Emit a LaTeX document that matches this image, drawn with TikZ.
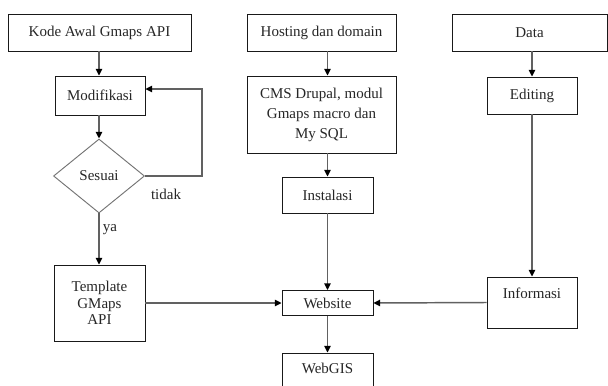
\documentclass[tikz,border=0pt]{standalone}
\usepackage{fontspec}
\setmainfont{Liberation Serif}
\usetikzlibrary{shapes.geometric,arrows.meta}
\begin{document}
\begin{tikzpicture}[x=0.75pt,y=-0.75pt,
  box/.style={draw=black!90,line width=0.65pt,inner sep=0pt,align=center,font=\fontsize{11.25pt}{12.5pt}\selectfont,text=black!85},
  dec/.style={diamond,draw=black!55,line width=0.7pt,inner sep=0pt,font=\fontsize{11.25pt}{12.5pt}\selectfont,text=black!85},
  arr/.style={draw=black!62,line width=1.1pt,-{Triangle[length=5pt,width=4.8pt,fill=black,color=black]}},
  lbl/.style={font=\fontsize{11.25pt}{12.5pt}\selectfont,text=black!85,inner sep=0pt}]
\useasboundingbox (0,0) rectangle (608,386);
% left column
\node[box,minimum width=137.25pt,minimum height=27.75pt] (kode) at (99.5,32.5) {Kode Awal Gmaps API};
\node[box,minimum width=67.5pt,minimum height=29.25pt] (mod) at (100,95.5) {Modifikasi};
\node[dec,minimum width=68.25pt,minimum height=55.5pt] (ses) at (99,176) {Sesuai};
\node[box,minimum width=68.25pt,minimum height=57pt] (tmpl) at (99.5,303) {Template\\GMaps\\API};
% middle column
\node[box,minimum width=111.75pt,minimum height=27.75pt] (host) at (321.5,32.5) {Hosting dan domain};
\node[box,minimum width=111.75pt,minimum height=57.75pt,font=\fontsize{11.25pt}{15pt}\selectfont] (cms) at (321.5,114.5) {CMS Drupal, modul\\Gmaps macro dan\\My SQL};
\node[box,minimum width=68.25pt,minimum height=27pt] (inst) at (327.5,195) {Instalasi};
\node[box,minimum width=68.25pt,minimum height=18.75pt] (web) at (327.5,303) {Website};
\node[box,minimum width=68.25pt,minimum height=39pt] (webgis) at (327.5,379) {};
\node[lbl] (webgistext) at (327.5,368) {WebGIS};
% right column
\node[box,minimum width=116.25pt,minimum height=27.75pt] (data) at (529.5,32.5) {Data};
\node[box,minimum width=67.5pt,minimum height=27.75pt] (edit) at (532,95.5) {Editing};
\node[box,minimum width=67.5pt,minimum height=38.25pt] (info) at (532,302.5) {};
\node[lbl] (infotext) at (532,293) {Informasi};
% labels
\node[lbl] (tidak) at (166,194) {tidak};
\node[lbl] (ya) at (110,230) {ya};
% connectors
\draw[arr] (kode.south -| ses) -- (mod.north -| ses);
\draw[arr] (mod.south -| ses) -- (ses.north);
\coordinate (loopc) at (202,89);
\draw[arr] (ses.east) -| (loopc) -- (loopc -| mod.east);
\draw[arr] (ses.south) -- (tmpl.north -| ses);
\draw[arr] (tmpl.east) -- (web.west);
\draw[arr] (host.south -| inst) -- (cms.north -| inst);
\draw[arr] (cms.south -| inst) -- (inst.north);
\draw[arr] (inst.south) -- (web.north);
\draw[arr] (web.south) -- (webgis.north);
\draw[arr] (data.south -| edit) -- (edit.north);
\draw[arr] (edit.south) -- (info.north);
\draw[arr] (info.west) -- (web.east);
\end{tikzpicture}
\end{document}
